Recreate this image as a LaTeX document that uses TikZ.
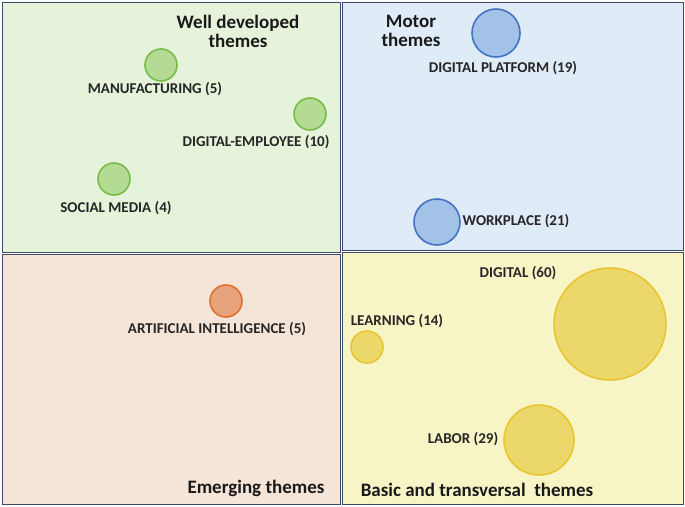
\documentclass[tikz,border=0pt]{standalone}
\usepackage{fontspec}
\setmainfont{Carlito}
\definecolor{gbg}{HTML}{E6F3DB}
\definecolor{bbg}{HTML}{DFEBF6}
\definecolor{pbg}{HTML}{F5E4D8}
\definecolor{ybg}{HTML}{F7F4C6}
\definecolor{gfl}{HTML}{B3DB93}
\definecolor{gdr}{HTML}{78BD48}
\definecolor{bfl}{HTML}{A2C2E7}
\definecolor{bdr}{HTML}{4472C4}
\definecolor{ofl}{HTML}{E8A27C}
\definecolor{odr}{HTML}{E0702C}
\definecolor{yfl}{HTML}{ECD86A}
\definecolor{ydr}{HTML}{E9C434}
\definecolor{qdr}{HTML}{3A4A68}
\begin{document}
\begin{tikzpicture}[x=1pt,y=-1pt,
 quad/.style={draw=qdr,line width=0.6pt},
 lbl/.style={font=\bfseries\fontsize{15}{16}\selectfont,text=black!85},
 ttl/.style={font=\bfseries\fontsize{19}{19}\selectfont,align=center,text=black!90},
 gc/.style={circle,draw=gdr,line width=1.6pt,fill=gfl},
 bc/.style={circle,draw=bdr,line width=1.6pt,fill=bfl},
 oc/.style={circle,draw=odr,line width=1.6pt,fill=ofl},
 yc/.style={circle,draw=ydr,line width=1.6pt,fill=yfl}]
\useasboundingbox (0,0) rectangle (685,506);
\fill[gbg,quad] (2,2) rectangle (340,252);
\fill[bbg,quad] (342,2) rectangle (683,250);
\fill[pbg,quad] (2,254) rectangle (340,504);
\fill[ybg,quad] (342,252) rectangle (683,504);
\node[gc,minimum size=32pt] (man) at (161,65) {};
\node[lbl] (manl) at (155,89) {MANUFACTURING (5)};
\node[gc,minimum size=32pt] (de) at (310,114) {};
\node[lbl] (del) at (256,142) {DIGITAL-EMPLOYEE (10)};
\node[gc,minimum size=32pt] (sm) at (114,179) {};
\node[lbl] (sml) at (116,208) {SOCIAL MEDIA (4)};
\node[bc,minimum size=48pt] (dp) at (496,33) {};
\node[lbl] (dpl) at (503,68) {DIGITAL PLATFORM (19)};
\node[bc,minimum size=46pt] (wp) at (437,222) {};
\node[lbl] (wpl) at (516,221) {WORKPLACE (21)};
\node[oc,minimum size=32pt] (ai) at (226,301) {};
\node[lbl] (ail) at (217,329) {ARTIFICIAL INTELLIGENCE (5)};
\node[yc,minimum size=32pt] (le) at (367,347) {};
\node[lbl] (lel) at (397,321) {LEARNING (14)};
\node[yc,minimum size=112pt] (dg) at (610,324) {};
\node[lbl] (dgl) at (518,273) {DIGITAL (60)};
\node[yc,minimum size=70pt] (lb) at (539,440) {};
\node[lbl] (lbl1) at (463,439) {LABOR (29)};
\node[ttl] (t1) at (238,31) {Well developed\\themes};
\node[ttl] (t2) at (411,31) {Motor\\themes};
\node[ttl] (t3) at (256,488) {Emerging themes};
\node[ttl] (t4) at (477,490) {Basic and transversal\ \ themes};
\end{tikzpicture}
\end{document}
